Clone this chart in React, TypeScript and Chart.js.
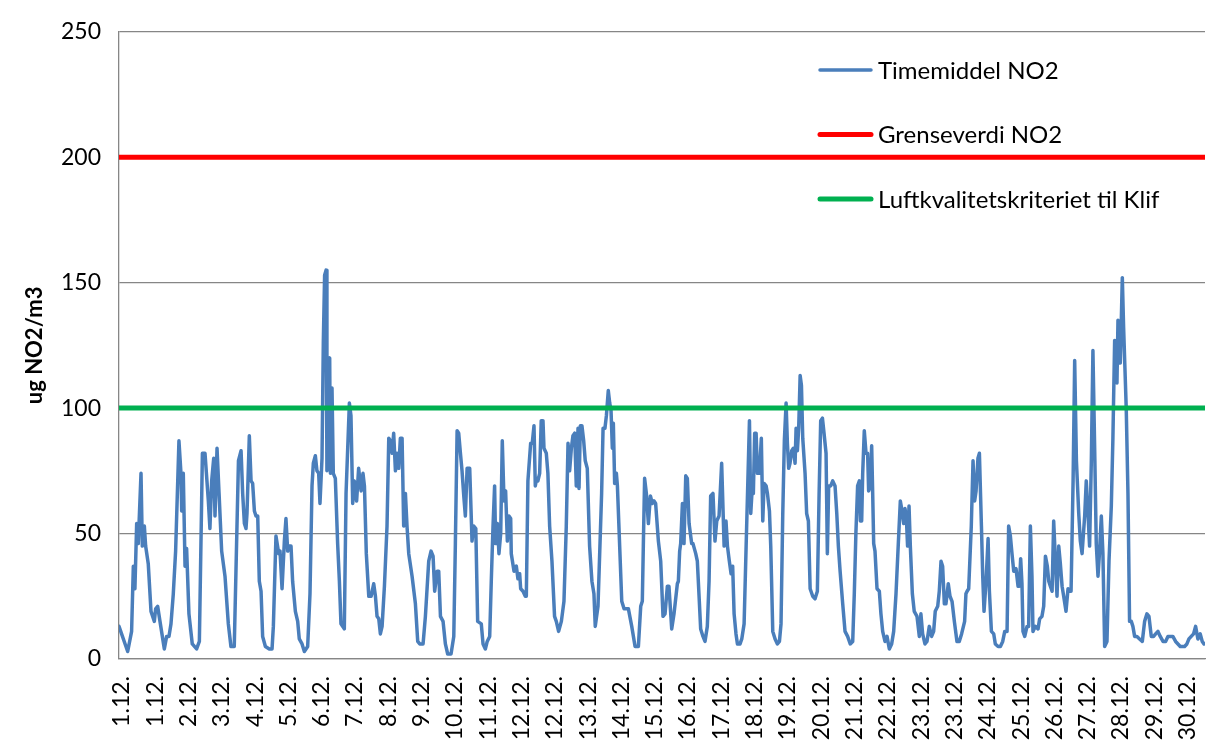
import { useEffect, useRef } from "react";
import { Chart, registerables } from "chart.js";

Chart.register(...registerables);

// Hour of month (0 = left edge of the plot) for each reading
const HOURS = [
  // 1.12. – 4.12.
  0, 6, 8.7, 9.9, 11, 12.2, 13.3, 15.2, 16.1, 17.5,
  18.4, 20.2, 22.1, 24.4, 25.3, 26.7, 28.3, 31.3, 32.9, 34.5,
  35.9, 37.5, 39.1, 41.4, 42.8, 43.3, 44.4, 45.6, 46.7, 48.3,
  50.6, 53.6, 55.5, 57.6, 59.4, 61.7, 62.8, 64, 65.4, 66.3,
  67.7, 69.1, 70.9, 73.2, 75.5, 77.3, 79.6,
  // 4.12. – 7.12.
  82.5, 84.3, 85.4, 86.6, 87.7, 88.4, 90, 91.2, 92.3, 93.5,
  94.6, 95.8, 96.9, 98.1, 99.2, 101.1, 103.8, 105.7, 106.6, 108.4,
  110.3, 111.2, 112.6, 114.2, 115.3, 116.5, 117.6, 118.8, 119.9, 121.8,
  123.4, 124.5, 126.4, 128, 130.3, 131.9, 133.3, 134.2, 135.6, 136.7,
  137.9, 138.8, 140.2, 141.1, 142, 143, 143.6, 144.6, 145.5, 146,
  147.1, 148, 149.4, 151, 152.2, 153.3, 154.5, 155.6, 156.8, 159.1,
  160.2, 161.4, 162.5, 164.1, 165.5,
  // 7.12. – 11.12.
  167.2, 168.5, 169.5, 170.8, 172.5, 174.1, 175.9, 177.1, 178.2, 179.4,
  180.5, 181.7, 183.3, 185.1, 186.3, 187.4, 188.6, 189.7, 190.9, 192,
  193.2, 194.3, 195.5, 196.6, 197.8, 198.9, 200.1, 202.4, 204.7, 206.3,
  207.7, 210, 211.6, 213.9, 215.5, 216.9, 218, 219.7, 220.8, 222,
  223.8, 225.4, 227, 229.3, 231.2, 232.3, 233.5, 234.6, 235.8, 236.9,
  238.1, 239.2, 240.4, 242.2, 243.8, 245, 246.4, 247.7,
  // 11.12. – 14.12.
  250.2, 251.4, 253, 254.3, 256, 257.1, 258.3, 259.4, 260.1, 261.3,
  262.4, 263.6, 264.7, 265.9, 267, 268.2, 269.3, 270.5, 270.9, 272.8,
  274.4, 275.5, 276.7, 277.4, 279, 280.6, 281.3, 282.4, 284.3, 285.4,
  286.6, 287.5, 288.4, 289.3, 290.5, 291.6, 292.8, 293.5, 295.1, 296.2,
  297.4, 299, 300.8, 302, 303.6, 305.5, 307.3, 308.9, 310.1, 311.2,
  312.4, 313.5, 314.7, 315.8, 317, 317.7, 318.6, 319.7, 320.9, 322,
  323.4, 325, 326.6, 328, 328.9, 330.8,
  // 14.12. – 18.12.
  333.3, 334.3, 335.6, 336.6, 337.9, 338.9, 339.8, 340.7, 341.4, 342.3,
  343.5, 344.2, 347.2, 348.8, 351.8, 354.1, 356.4, 358.7, 360.3, 361.4,
  362.1, 363, 364.2, 365.6, 367, 368.3, 369.5, 370.6, 372.5, 374.1,
  375.7, 377.1, 378.7, 379.8, 381.7, 383.3, 385.6, 386.3, 387.2, 387.9,
  389.1, 390.2, 391.4, 392.5, 393.7, 395.5, 396.4, 398.3, 399.4, 400.6,
  401.7, 403.3, 404.7, 406.3, 407.5, 408.6, 410.2, 411.6, 412.8, 414.4,
  416.2,
  // 18.12. – 21.12.
  417.9, 419.2, 420.2, 421.5, 422.7, 423.8, 424.8, 426.1, 427.1, 428.9,
  430.1, 431.7, 433.1, 435.4, 436.3, 437.2, 438.1, 439, 440, 440.9,
  442.3, 443.6, 444.6, 445.5, 446.9, 447.8, 449.2, 450.1, 451.5, 453.1,
  454.7, 456.1, 457.2, 458.4, 459.5, 460.7, 461.6, 462.5, 463.4, 464.6,
  465.7, 466.9, 467.6, 468.5, 469.4, 470.4, 471.3, 472.2, 473.8, 474.9,
  476.1, 477.3, 479.1, 480.7, 482.3, 483.5, 484.6, 485.8, 486.9, 488.3,
  489.2, 490.1, 491.5, 492.9, 494.5, 495.7, 496.8, 498, 499.8, 501.4,
  // 21.12. – 25.12.
  503.2, 505, 506.7, 507.8, 508.9, 510.1, 511.3, 512, 512.9, 513.6,
  514.7, 515.9, 517, 517.7, 518.9, 519.8, 520.5, 521.2, 522.1, 523.5,
  525.1, 526.2, 527.4, 529, 530.4, 532, 533.6, 535, 536.6, 538.2,
  539.6, 540.5, 541.9, 542.8, 543.7, 544.6, 545.6, 546.5, 547.9, 549.2,
  551.1, 552.7, 553.8, 555, 556.6, 558, 559.6, 561.2, 562.6, 563.7,
  565.4, 566.5, 567.7, 568.8, 570, 571.1, 572.7, 573.9, 575.3, 576.9,
  578.7, 580.3, 581.9,
  // 25.12. – 28.12.
  584, 584.9, 585.7, 586.8, 588.6, 589.8, 590.9, 591.9, 593.2, 594.2,
  595.6, 596.5, 597.4, 598.8, 600.2, 601.1, 602.5, 604.1, 605.2, 607.1,
  608.7, 610.3, 611.7, 613.3, 614.4, 615.6, 616.7, 617.9, 619.5, 620.9,
  621.8, 622.7, 623.6, 624.3, 625.5, 627.1, 628.2, 629.4, 630.5, 631.2,
  632.8, 634.7, 635.8, 637.4, 638.6, 639.8, 641.1, 642.1, 643.2, 644.4,
  645.5, 646.7, 647.8, 649, 650.1, 651.3, 652.4, 654, 655.4, 656.3,
  657.5, 658.9, 660, 661.2, 662.8, 663.9, 665.1,
  // 28.12. – 31.12.
  666.9, 668, 669.2, 670.3, 671.5, 672.6, 673.8, 674.9, 676.1, 677.2,
  678.4, 679.5, 680.7, 682.3, 683.7, 685.3, 686.4, 687.6, 688.3, 689.2,
  689.9, 690.6, 691.5, 692.9, 693.8, 694.7, 695.6, 696.8, 697.9, 699.1,
  700.2, 701.4, 703, 704.8, 706.7, 708.3, 709.9, 711.3, 712.9, 714.5,
  715.9, 717.5, 719.1, 721, 722.8, 724.4, 726, 727.8, 729.7, 731.3,
  732.9, 734.3, 735.9, 737.5, 738.9, 740.5, 742.1, 743.5, 745.1, 746.7,
  748.1, 749.3,
];

// Hourly NO2 (ug/m3)
const NO2 = [
  13, 3, 11, 37, 28, 54, 46, 74, 45, 53,
  45, 38, 19, 15, 20, 21, 15, 4, 9, 9,
  14, 26, 43, 87, 74, 59, 74, 37, 44, 18,
  6, 4, 7, 82, 82, 63, 52, 71, 80, 57,
  84, 66, 43, 33, 14, 5, 5,

  79, 83, 66, 54, 52, 58, 89, 71, 70, 59,
  57, 57, 31, 27, 9, 5, 4, 4, 13, 49,
  42, 43, 28, 47, 56, 43, 45, 45, 31, 19,
  15, 8, 6, 3, 5, 26, 69, 78, 81, 75,
  74, 62, 80, 126, 153, 155, 75, 119, 120, 74,
  108, 74, 72, 46, 31, 14, 13, 12, 66, 102,
  97, 62, 71, 63, 76,

  67, 74, 69, 42, 25, 25, 30, 25, 17, 16,
  10, 13, 29, 53, 88, 87, 82, 90, 75, 82,
  76, 88, 88, 53, 66, 53, 42, 33, 22, 7,
  6, 6, 17, 39, 43, 41, 27, 35, 35, 17,
  15, 6, 2, 2, 9, 46, 91, 90, 82, 75,
  65, 57, 76, 76, 47, 53, 52, 15,

  14, 6, 4, 7, 9, 31, 53, 69, 46, 54,
  42, 50, 87, 63, 67, 47, 57, 56, 42, 35,
  37, 32, 34, 28, 27, 25, 25, 71, 86, 86,
  93, 69, 72, 71, 74, 95, 95, 84, 82, 74,
  53, 39, 17, 15, 11, 15, 23, 53, 86, 75,
  84, 89, 90, 69, 92, 68, 93, 93, 87, 79,
  76, 45, 31, 26, 13, 21,

  66, 92, 92, 97, 107, 102, 99, 84, 94, 70,
  74, 69, 23, 20, 20, 13, 5, 5, 21, 23,
  45, 72, 66, 54, 65, 62, 63, 62, 47, 39,
  17, 18, 29, 29, 12, 18, 30, 31, 43, 46,
  62, 46, 73, 72, 54, 46, 46, 42, 39, 25,
  12, 9, 7, 13, 31, 65, 66, 47, 55, 57,
  78,

  45, 55, 45, 39, 34, 37, 18, 10, 6, 6,
  8, 14, 45, 95, 58, 67, 66, 90, 90, 74,
  74, 88, 55, 70, 69, 66, 59, 45, 11, 8,
  6, 7, 14, 58, 87, 102, 86, 76, 78, 83,
  84, 78, 92, 83, 92, 113, 109, 88, 74, 58,
  55, 28, 25, 24, 27, 66, 95, 96, 90, 82,
  42, 69, 69, 71, 69, 58, 45, 35, 22, 11,

  9, 6, 7, 26, 50, 69, 71, 55, 55, 74,
  91, 82, 82, 67, 69, 85, 66, 46, 43, 28,
  27, 18, 11, 7, 9, 4, 6, 11, 26, 46,
  63, 60, 54, 60, 57, 45, 61, 45, 26, 19,
  17, 9, 18, 10, 6, 7, 13, 9, 11, 19,
  21, 27, 39, 37, 22, 22, 30, 25, 23, 15,
  7, 7, 10,

  15, 26, 27, 28, 53, 79, 63, 67, 80, 82,
  53, 33, 19, 31, 48, 27, 11, 10, 6, 5,
  5, 7, 11, 11, 53, 49, 42, 35, 36, 29,
  29, 40, 30, 11, 9, 13, 13, 53, 33, 11,
  13, 12, 16, 17, 21, 41, 37, 31, 29, 27,
  55, 39, 25, 45, 38, 29, 25, 19, 28, 27,
  27, 71, 119, 79, 58, 47, 42,

  57, 71, 58, 45, 79, 123, 84, 46, 33, 43,
  57, 42, 5, 7, 39, 61, 88, 127, 126, 110,
  135, 118, 118, 152, 132, 116, 100, 66, 15, 15,
  13, 9, 9, 8, 7, 15, 18, 17, 9, 9,
  10, 11, 9, 7, 7, 9, 9, 9, 7, 6,
  5, 5, 5, 6, 8, 9, 10, 13, 8, 10,
  7, 6,
];

const TICK_LABELS = [
  "1.12.", "1.12.", "2.12.", "3.12.", "4.12.", "5.12.", "6.12.", "7.12.", "8.12.", "9.12.",
  "10.12.", "11.12.", "12.12.", "12.12.", "13.12.", "14.12.", "15.12.", "16.12.", "17.12.", "18.12.",
  "19.12.", "20.12.", "21.12.", "22.12.", "23.12.", "23.12.", "24.12.", "25.12.", "26.12.", "27.12.",
  "28.12.", "29.12.", "30.12.",
];
const TICK_START = 2;
const TICK_STEP = 23;
const X_MIN = 0;
const X_MAX = 750;

const GRENSEVERDI = 200;
const KLIF_KRITERIUM = 100;

const Y_MIN = 0;
const Y_MAX = 250;
const Y_STEP = 50;

const FONT = "Lato, 'Open Sans', sans-serif";
const GRID = "#868686";

export default function App() {
  const ref = useRef<HTMLCanvasElement | null>(null);

  useEffect(() => {
    if (!ref.current) return;
    const legendPlugin = {
      id: "insideLegend",
      afterDraw(chart: any) {
        const ctx = chart.ctx as CanvasRenderingContext2D;
        ctx.save();
        chart.data.datasets.forEach((ds: any, i: number) => {
          const y = 70 + i * 64.5;
          ctx.strokeStyle = ds.borderColor;
          ctx.lineWidth = i === 0 ? 3.5 : 5;
          ctx.lineCap = "round";
          ctx.beginPath();
          ctx.moveTo(820, y);
          ctx.lineTo(871, y);
          ctx.stroke();
          ctx.fillStyle = "#000";
          ctx.font = `24px ${FONT}`;
          ctx.textAlign = "left";
          ctx.textBaseline = "middle";
          ctx.fillText(ds.label, 878, y + 1);
        });
        ctx.restore();
      },
    };

    const chart = new Chart(ref.current, {
      type: "line",
      data: {
        datasets: [
          {
            label: "Timemiddel NO2",
            data: HOURS.map((h, i) => ({ x: h, y: NO2[i] })),
            borderColor: "#4A7EBB",
            borderWidth: 3.5,
            pointRadius: 0,
            tension: 0,
            borderJoinStyle: "round",
            borderCapStyle: "round",
            order: 3,
          },
          {
            label: "Grenseverdi NO2",
            data: [
              { x: X_MIN, y: GRENSEVERDI },
              { x: X_MAX, y: GRENSEVERDI },
            ],
            borderColor: "#FF0000",
            borderWidth: 5,
            pointRadius: 0,
            order: 2,
          },
          {
            label: "Luftkvalitetskriteriet til Klif",
            data: [
              { x: X_MIN, y: KLIF_KRITERIUM },
              { x: X_MAX, y: KLIF_KRITERIUM },
            ],
            borderColor: "#00B050",
            borderWidth: 5,
            pointRadius: 0,
            order: 1,
          },
        ],
      },
      options: {
        responsive: false,
        animation: false,
        devicePixelRatio: 1,
        layout: { padding: { top: 31, right: 3, left: 0, bottom: 0 } },
        plugins: {
          legend: { display: false },
          tooltip: { enabled: false },
        },
        scales: {
          x: {
            type: "linear",
            min: X_MIN,
            max: X_MAX,
            afterBuildTicks: (s: any) => {
              s.ticks = TICK_LABELS.map((_, k) => ({ value: TICK_START + k * TICK_STEP }));
            },
            afterFit: (s: any) => {
              s.height = 86;
              s.paddingLeft = 0;
              s.paddingRight = 0;
            },
            ticks: {
              autoSkip: false,
              minRotation: 90,
              maxRotation: 90,
              padding: 17,
              color: "#000",
              font: { family: FONT, size: 23 },
              callback: (_v: any, i: number) => TICK_LABELS[i],
            },
            grid: { display: false, drawTicks: false },
            border: { display: true, color: GRID, width: 1.3 },
          },
          y: {
            type: "linear",
            min: Y_MIN,
            max: Y_MAX,
            afterFit: (s: any) => {
              s.width = 119;
            },
            ticks: {
              stepSize: Y_STEP,
              padding: 18,
              color: "#000",
              font: { family: FONT, size: 23 },
            },
            grid: { color: GRID, lineWidth: 1.3, drawTicks: false },
            border: { display: true, color: GRID, width: 1.3 },
            title: {
              display: true,
              text: "ug NO2/m3",
              color: "#000",
              font: { family: FONT, size: 22, weight: "bold" },
              padding: { top: 22, bottom: 0 },
            },
          },
        },
      },
      plugins: [legendPlugin],
    } as any);

    return () => chart.destroy();
  }, []);

  return (
    <div style={{ position: "fixed", left: 0, top: 0, width: 1208, height: 745, background: "#fff" }}>
      <canvas ref={ref} width={1208} height={745} style={{ display: "block" }} />
    </div>
  );
}
